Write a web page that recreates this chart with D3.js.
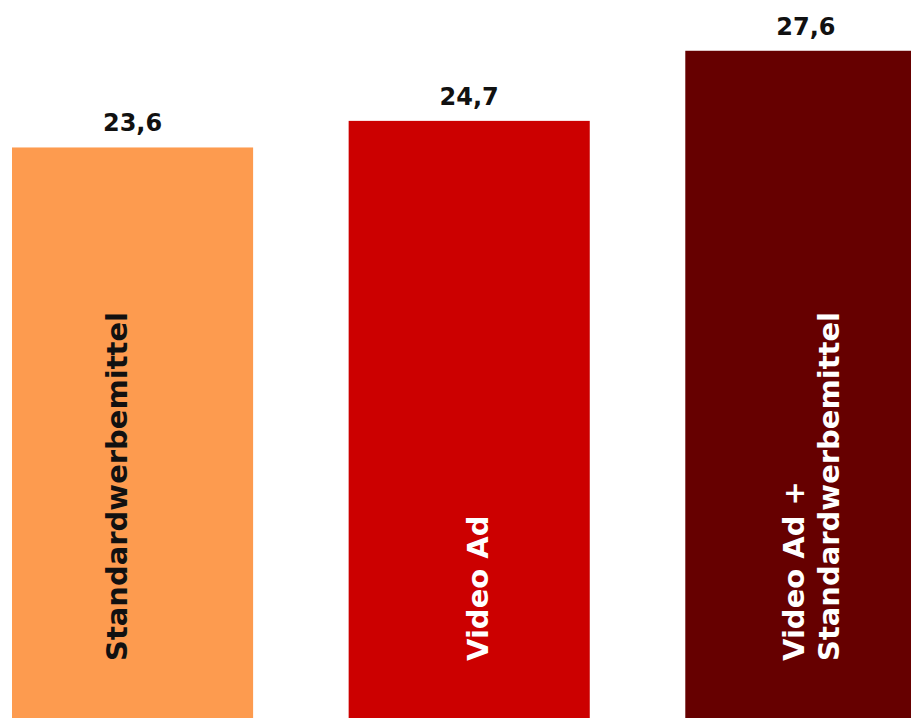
<!DOCTYPE html>
<html>
<head>
<meta charset="utf-8">
<script src="https://cdn.jsdelivr.net/npm/d3@7"></script>
<style>
  body { margin: 0; background: #fff; }
  svg { display: block; font-family: "DejaVu Sans", sans-serif; font-weight: bold; }
</style>
</head>
<body>
<script>
var width = 911;
var height = 718;

// data
var categories = ["Standardwerbemittel", "Video Ad", "Video Ad + Standardwerbemittel"];
var labelLines = [["Standardwerbemittel"], ["Video Ad"], ["Video Ad +", "Standardwerbemittel"]];
var values = [23.6, 24.7, 27.6];
var valueLabels = ["23,6", "24,7", "27,6"];
var colors = ["#fd9b4f", "#cc0000", "#660000"];
var textColors = ["#111111", "#ffffff", "#ffffff"];

// the rotated labels are not quite centred in the original
var labelShift = [-5.5, 19, 15.5];

var svg = d3.select("body").append("svg")
    .attr("width", width)
    .attr("height", height);

var x = d3.scaleBand()
    .domain(categories)
    .range([12, 926.4])
    .paddingInner(0.2838)
    .paddingOuter(0);

var y = d3.scaleLinear()
    .domain([0, 29.7])
    .range([height, 0]);

var bar = svg.selectAll(".bar")
    .data(categories)
  .enter().append("g")
    .attr("class", "bar");

bar.append("rect")
    .attr("x", function (d) { return x(d); })
    .attr("y", function (d, i) { return y(values[i]); })
    .attr("width", x.bandwidth())
    .attr("height", function (d, i) { return height - y(values[i]); })
    .style("fill", function (d, i) { return colors[i]; });

bar.append("text")
    .attr("x", function (d) { return x(d) + x.bandwidth() / 2; })
    .attr("y", function (d, i) { return y(values[i]) - 16; })
    .attr("text-anchor", "middle")
    .style("font-size", "24px")
    .style("fill", "#111")
    .text(function (d, i) { return valueLabels[i]; });

var lineGap = 35;

bar.append("text")
    .attr("transform", function (d, i) {
      var n = labelLines[i].length;
      var base = x(d) + x.bandwidth() / 2 + labelShift[i] - (n - 1) * lineGap / 2;
      return "translate(" + base + "," + (height - 57) + ") rotate(-90)";
    })
    .style("font-size", "29px")
    .style("fill", function (d, i) { return textColors[i]; })
  .selectAll("tspan")
    .data(function (d, i) { return labelLines[i]; })
  .enter().append("tspan")
    .attr("x", 0)
    .attr("dy", function (d, j) { return j === 0 ? 0 : lineGap; })
    .text(function (d) { return d; });
</script>
</body>
</html>
